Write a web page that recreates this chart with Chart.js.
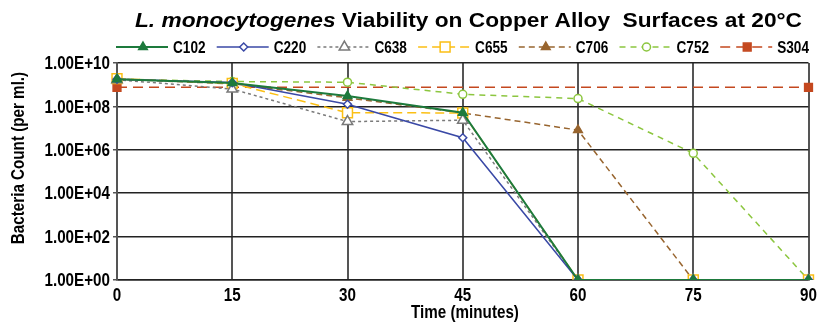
<!DOCTYPE html>
<html>
<head>
<meta charset="utf-8">
<script src="https://cdn.jsdelivr.net/npm/chart.js@4/dist/chart.umd.min.js"></script>
<style>
  html, body { margin: 0; padding: 0; background: #fff; }
  #wrap { width: 817px; height: 322px; }
</style>
</head>
<body>
<div id="wrap"><canvas id="viabilityChart"></canvas></div>
<script>
// waktu pengamatan (menit)
const minutes = ['0', '15', '30', '45', '60', '75', '90'];

// jumlah bakteri per ml
const c102 = [1.8e9, 1.2e9, 3.0e8, 5.1e7, 1, 1, 1];
const c220 = [1.8e9, 1.25e9, 1.25e8, 3.6e6, 1, 1, 1];
const c638 = [1.7e9, 6.3e8, 2.0e7, 2.3e7, 1, 1, 1];
const c655 = [1.9e9, 1.15e9, 5.1e7, 5.0e7, 1, 1, 1];
const c706 = [1.8e9, 1.1e9, 2.5e8, 5.0e7, 8.1e6, 1, 1];
const c752 = [1.8e9, 1.4e9, 1.3e9, 3.6e8, 2.3e8, 6.9e5, 1];
const s304 = [7.6e8, null, null, null, null, null, 7.6e8];

const yTicks = [1, 1e2, 1e4, 1e6, 1e8, 1e10];

const series = [
    { label: 'C102', data: c102, color: '#1d7a3c', dash: [], width: 2, style: 'triangle', fill: true, r: 5 },
    { label: 'C220', data: c220, color: '#3a49a6', dash: [], width: 1.5, style: 'rectRot', fill: false, r: 4 },
    { label: 'C638', data: c638, color: '#7a7a7a', dash: [3, 3], width: 1.5, style: 'triangle', fill: false, r: 6 },
    { label: 'C655', data: c655, color: '#fbbf14', dash: [9, 5], width: 1.5, style: 'rect', fill: false, r: 7 },
    { label: 'C706', data: c706, color: '#98652f', dash: [6, 4], width: 1.5, style: 'triangle', fill: true, r: 5 },
    { label: 'C752', data: c752, color: '#8cc63f', dash: [6, 5], width: 1.5, style: 'circle', fill: false, r: 4 },
    { label: 'S304', data: s304, color: '#c4481f', dash: [10, 6], width: 1.5, style: 'rect', fill: true, r: 5.5 }
];

const yLabel = v => '1.00E+' + String(Math.round(Math.log10(v))).padStart(2, '0');

// teks tebal yang dipersempit (font narrow tidak tersedia)
function narrowText(c, text, x, y, size, align) {
    c.save();
    c.translate(x, y);
    c.scale(0.8, 1);
    c.font = "bold " + size + "px 'Liberation Sans', Arial, sans-serif";
    c.textAlign = align;
    c.textBaseline = 'middle';
    c.fillStyle = '#000';
    c.fillText(text, 0, 0);
    c.restore();
}

// judul, legenda, label sumbu digambar manual
const decor = {
    id: 'decor',
    afterDraw(chart) {
        const c = chart.ctx;
        const xs = chart.scales.x, ys = chart.scales.y;
        c.save();

        // judul
        const italicPart = 'L. monocytogenes';
        const restPart = ' Viability on Copper Alloy  Surfaces at 20°C';
        c.fillStyle = '#000';
        c.textBaseline = 'alphabetic';
        c.textAlign = 'left';
        c.font = "italic bold 21px 'Liberation Sans', sans-serif";
        const w1 = c.measureText(italicPart).width;
        c.font = "bold 21px 'Liberation Sans', sans-serif";
        const w2 = c.measureText(restPart).width;
        const k = 667 / (w1 + w2);
        c.save();
        c.translate(135, 27);
        c.scale(k, 1);
        c.font = "italic bold 21px 'Liberation Sans', sans-serif";
        c.fillText(italicPart, 0, 0);
        c.font = "bold 21px 'Liberation Sans', sans-serif";
        c.fillText(restPart, w1, 0);
        c.restore();

        // legenda
        const ly = 47;
        series.forEach((s, i) => {
            const x0 = 116 + i * 100.7;
            c.strokeStyle = s.color;
            c.lineWidth = s.width;
            c.setLineDash(s.dash);
            c.beginPath();
            c.moveTo(x0, ly);
            c.lineTo(x0 + 52, ly);
            c.stroke();
            c.setLineDash([]);
            c.fillStyle = s.fill ? s.color : '#fff';
            c.lineWidth = 1.5;
            Chart.helpers.drawPoint(c, { pointStyle: s.style, radius: s.r, rotation: 0, borderWidth: 1.5 }, x0 + 27, ly);
            narrowText(c, s.label, x0 + 57, ly + 1, 17, 'left');
        });

        // label sumbu
        minutes.forEach((m, i) => narrowText(c, m, xs.getPixelForTick(i), 296, 19, 'center'));
        yTicks.forEach(v => narrowText(c, yLabel(v), 110, ys.getPixelForValue(v) + 1, 19, 'right'));

        // judul sumbu
        narrowText(c, 'Time (minutes)', 465, 313, 19, 'center');
        c.translate(19, 158);
        c.rotate(-Math.PI / 2);
        narrowText(c, 'Bacteria Count (per ml.)', 0, 0, 19, 'center');
        c.restore();
    }
};

const ctx = document.getElementById('viabilityChart').getContext('2d');

new Chart(ctx, {
    type: 'line',
    data: {
        labels: minutes,
        datasets: series.map(s => ({
            label: s.label,
            data: s.data,
            borderColor: s.color,
            borderWidth: s.width,
            borderDash: s.dash,
            pointStyle: s.style,
            pointRadius: s.r,
            pointBorderWidth: 1.5,
            pointBorderColor: s.color,
            pointBackgroundColor: s.fill ? s.color : '#fff',
            spanGaps: true,
            tension: 0,
            fill: false
        }))
    },
    options: {
        responsive: true,
        maintainAspectRatio: false,
        animation: false,
        layout: { padding: { top: 63, right: 5, left: 0, bottom: 0 } },
        scales: {
            x: {
                type: 'category',
                offset: false,
                grid: { color: '#555', lineWidth: 2, drawTicks: false },
                border: { color: '#222', width: 1.5 },
                ticks: { display: false },
                afterFit: s => { s.height = 42; s.paddingLeft = 0; s.paddingRight = 0; }
            },
            y: {
                type: 'logarithmic',
                min: 1,
                max: 1e10,
                grid: { color: '#222', lineWidth: 1.5, tickLength: 4, tickColor: '#555' },
                border: { color: '#555', width: 2 },
                afterBuildTicks: s => { s.ticks = yTicks.map(v => ({ value: v, major: false })); },
                ticks: { display: false, callback: yLabel },
                afterFit: s => { s.width = 117; s.paddingTop = 0; s.paddingBottom = 0; }
            }
        },
        plugins: {
            legend: { display: false },
            title: { display: false },
            tooltip: { enabled: false }
        }
    },
    plugins: [decor]
});
</script>
</body>
</html>
